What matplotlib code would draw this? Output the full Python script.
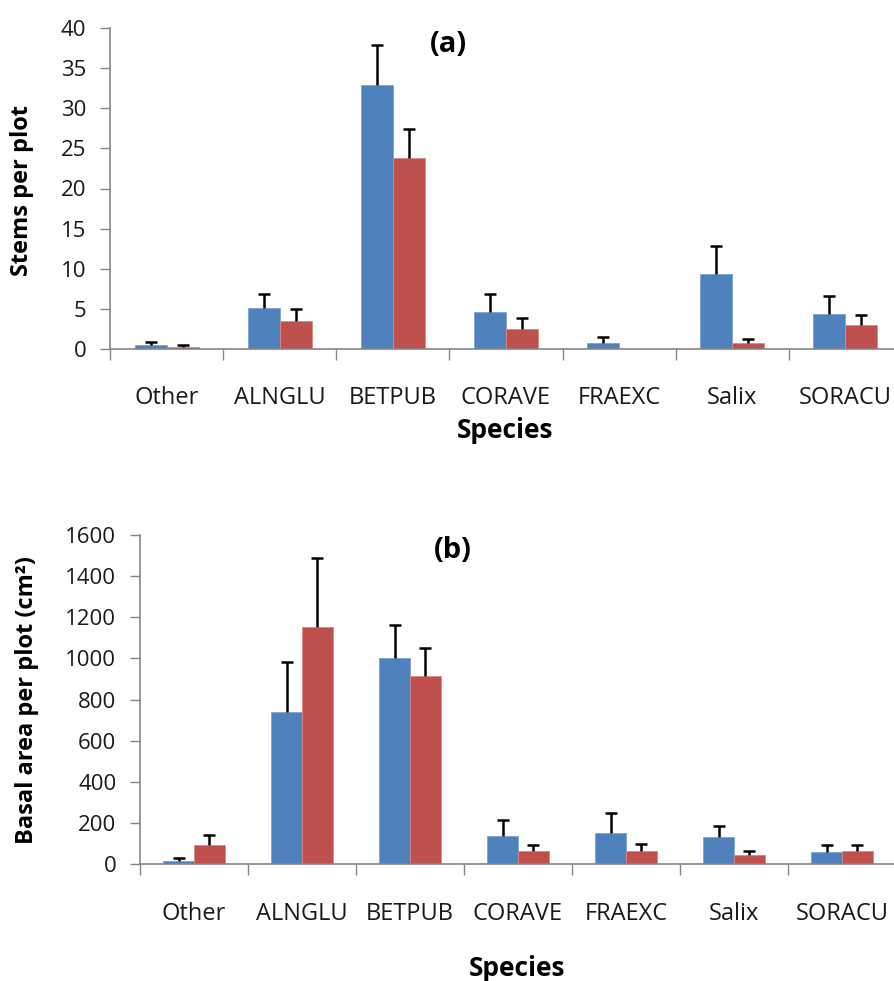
import numpy as np
import matplotlib
matplotlib.use("Agg")
import matplotlib.pyplot as plt
from matplotlib.ticker import FixedLocator, NullFormatter

plt.rcParams['font.family'] = ['Open Sans', 'DejaVu Sans']

species = ['Other', 'ALNGLU', 'BETPUB', 'CORAVE', 'FRAEXC', 'Salix', 'SORACU']

# stems per plot
stems_blue = [0.5, 5.1, 32.9, 4.6, 0.8, 9.4, 4.3]
stems_blue_se = [0.35, 1.7, 5.0, 2.2, 0.7, 3.4, 2.3]
stems_red = [0.3, 3.5, 23.8, 2.5, 0.0, 0.8, 3.0]
stems_red_se = [0.2, 1.45, 3.6, 1.35, 0.0, 0.5, 1.25]

# basal area per plot (cm2)
basal_blue = [13, 741, 1004, 138, 149, 131, 57]
basal_blue_se = [15, 239, 156, 76, 101, 54, 34]
basal_red = [94, 1153, 916, 62, 62, 44, 62]
basal_red_se = [47, 337, 133, 29, 34, 19, 29]

BLUE = '#4F81BD'
RED = '#C0504D'
GRAY = '#868686'

W, H = 894, 981
fig = plt.figure(figsize=(W / 100, H / 100), dpi=100)


def px_axes(left, top, right, bottom):
    return fig.add_axes([left / W, 1 - bottom / H, (right - left) / W, (bottom - top) / H])


def draw_panel(ax, blue, blue_se, red, red_se, ymax, ystep):
    x = np.arange(len(species))
    w = 0.283
    ax.bar(x - w / 2, blue, w, color=BLUE, edgecolor='#7FA3D0', linewidth=0.6, zorder=2)
    ax.bar(x + w / 2, red, w, color=RED, edgecolor='#D88A88', linewidth=0.6, zorder=2)
    for off, vals, se in [(-w / 2, blue, blue_se), (w / 2, red, red_se)]:
        vals = np.array(vals, dtype=float)
        se = np.array(se, dtype=float)
        m = se > 0
        _, caps, _ = ax.errorbar(x[m] + off, vals[m], yerr=[np.zeros(m.sum()), se[m]], fmt='none',
                                 ecolor='black', elinewidth=1.8, capsize=4.5, capthick=1.8, zorder=3)
        caps[0].set_visible(False)  # only the upper cap, like the excel chart
    ax.set_xlim(-0.5, len(species) - 0.5)
    ax.set_ylim(0, ymax)
    ax.set_yticks(np.arange(0, ymax + 1, ystep))
    ax.xaxis.set_major_locator(FixedLocator(np.arange(len(species) + 1) - 0.5))
    ax.xaxis.set_major_formatter(NullFormatter())
    ax.xaxis.set_minor_locator(FixedLocator(x))
    ax.set_xticklabels(species, minor=True)
    ax.tick_params(axis='x', which='major', length=8, width=1, color=GRAY, direction='out')
    ax.tick_params(axis='x', which='minor', length=0, pad=27, labelsize=17, labelcolor='#1a1a1a')
    ax.tick_params(axis='y', length=7, width=1, color=GRAY, direction='out', pad=10,
                   labelsize=16, labelcolor='#1a1a1a')
    for s in ['top', 'right']:
        ax.spines[s].set_visible(False)
    for s in ['left', 'bottom']:
        ax.spines[s].set_color(GRAY)
        ax.spines[s].set_linewidth(1.2)


ax1 = px_axes(110, 28, 902, 349)
draw_panel(ax1, stems_blue, stems_blue_se, stems_red, stems_red_se, 40, 5)

ax2 = px_axes(140, 535, 896, 864)
draw_panel(ax2, basal_blue, basal_blue_se, basal_red, basal_red_se, 1600, 200)

fig.text(448 / W, 1 - 44 / H, '(a)', ha='center', va='center', fontsize=21, fontweight='bold')
fig.text(453 / W, 1 - 551 / H, '(b)', ha='center', va='center', fontsize=21, fontweight='bold')
fig.text(22 / W, 1 - 190 / H, 'Stems per plot', rotation=90, ha='center', va='center',
         fontsize=17, fontweight='bold')
fig.text(27 / W, 1 - 700 / H, 'Basal area per plot (cm²)', rotation=90, ha='center', va='center',
         fontsize=17, fontweight='bold')
fig.text(505 / W, 1 - 431 / H, 'Species', ha='center', va='center', fontsize=19, fontweight='bold')
fig.text(517 / W, 1 - 968 / H, 'Species', ha='center', va='center', fontsize=19, fontweight='bold')

fig.savefig('out.png', dpi=100)
